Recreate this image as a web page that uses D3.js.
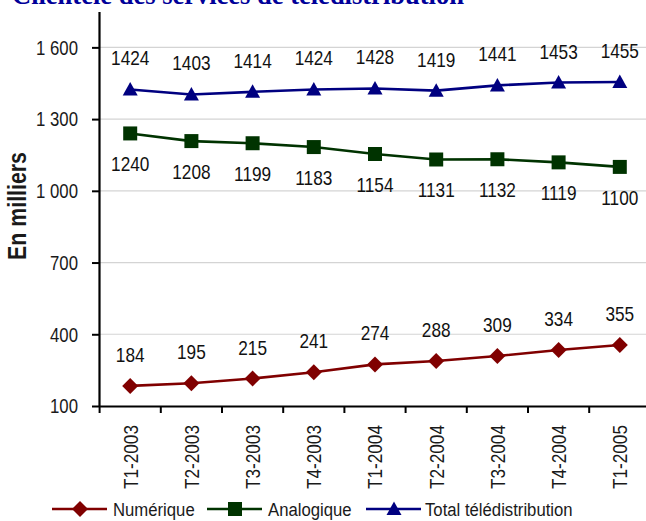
<!DOCTYPE html>
<html>
<head>
<meta charset="utf-8">
<script src="https://cdn.jsdelivr.net/npm/d3@7"></script>
<style>
  html, body { margin: 0; padding: 0; background: #fff; }
  svg { display: block; }
  text { font-family: "Liberation Sans", Arial, sans-serif; }
</style>
</head>
<body>
<svg id="chart" width="646" height="521"></svg>
<script>
// Quarterly subscribers (thousands)
const quarters = ["T1-2003", "T2-2003", "T3-2003", "T4-2003", "T1-2004", "T2-2004", "T3-2004", "T4-2004", "T1-2005"];
const numerique = [184, 195, 215, 241, 274, 288, 309, 334, 355];
const analogique = [1240, 1208, 1199, 1183, 1154, 1131, 1132, 1119, 1100];
const totalTele = [1424, 1403, 1414, 1424, 1428, 1419, 1441, 1453, 1455];
const yTicks = [100, 400, 700, 1000, 1300, 1600];

const series = [
  { name: "Numérique", values: numerique, color: "#800000", marker: "diamond", labelPos: "above" },
  { name: "Analogique", values: analogique, color: "#003300", marker: "square", labelPos: "below" },
  { name: "Total télédistribution", values: totalTele, color: "#000080", marker: "triangle", labelPos: "above" }
];

// condensed look: squeeze glyphs horizontally
const NARROW = 0.82;

const svg = d3.select("#chart");

const x = d3.scaleBand().domain(quarters).range([99.6, 650.4]).padding(0);
const y = d3.scaleLinear().domain([100, 1750]).range([406, 11.5]);

const fmt = d3.formatLocale({ decimal: ",", thousands: "\u00a0", grouping: [3], currency: ["", "€"] }).format(",d");

// Title
svg.append("text")
  .attr("x", 12).attr("y", 4)
  .style("font-family", "'Liberation Serif', 'Times New Roman', serif")
  .attr("font-weight", "bold")
  .attr("font-size", 26.5)
  .attr("fill", "#000099")
  .text("Clientèle des services de télédistribution");

// Horizontal gridlines
svg.append("g")
  .selectAll("line")
  .data(yTicks.slice(1))
  .join("line")
  .attr("x1", 99).attr("x2", 646)
  .attr("y1", d => y(d)).attr("y2", d => y(d))
  .attr("stroke", "#d4d4d4").attr("stroke-width", 1.2);

// Y axis
const yAxis = svg.append("g")
  .attr("transform", "translate(99,0)")
  .call(d3.axisLeft(y).tickValues(yTicks).tickFormat(fmt).tickSize(7).tickSizeOuter(0));
yAxis.select(".domain").attr("stroke", "#000").attr("stroke-width", 2.2);
yAxis.selectAll(".tick line").attr("stroke", "#000").attr("stroke-width", 2);
yAxis.selectAll(".tick text")
  .attr("font-size", 19.5)
  .attr("fill", "#1a1a1a")
  .attr("x", 0)
  .attr("text-anchor", "end")
  .attr("dy", "0.35em")
  .attr("transform", "translate(-21,0) scale(0.86,1)");

// X axis
const xAxis = svg.append("g")
  .attr("transform", "translate(0,406)")
  .call(d3.axisBottom(x).tickSize(0).tickSizeOuter(0));
xAxis.select(".domain").attr("stroke", "#000").attr("stroke-width", 2.2);
// category boundary ticks
xAxis.append("g")
  .selectAll("line")
  .data(quarters)
  .join("line")
  .attr("x1", d => x(d)).attr("x2", d => x(d))
  .attr("y1", 0).attr("y2", 7)
  .attr("stroke", "#000").attr("stroke-width", 2);
xAxis.selectAll(".tick text")
  .attr("font-size", 21)
  .attr("fill", "#1a1a1a")
  .attr("text-anchor", "end")
  .attr("transform", `translate(0,19) rotate(-90) scale(${NARROW},1)`)
  .attr("x", 0).attr("y", 0)
  .attr("dy", "0.35em");

// Y axis title
svg.append("text")
  .attr("transform", `translate(26,206) rotate(-90) scale(${NARROW},1)`)
  .attr("text-anchor", "middle")
  .attr("font-weight", "bold")
  .attr("font-size", 26)
  .attr("fill", "#1a1a1a")
  .text("En milliers");

function markerPath(type) {
  if (type === "diamond") return "M0,-8L8,0L0,8L-8,0Z";
  if (type === "square") return "M-7,-7H7V7H-7Z";
  return "M0,-7.5L7.5,6L-7.5,6Z";
}

const cx = d => x(d) + x.bandwidth() / 2;

series.forEach(s => {
  const g = svg.append("g");
  const pts = quarters.map((q, i) => ({ q, v: s.values[i] }));
  g.append("path")
    .datum(pts)
    .attr("fill", "none")
    .attr("stroke", s.color)
    .attr("stroke-width", 2.6)
    .attr("d", d3.line().x(d => cx(d.q)).y(d => y(d.v)));
  g.selectAll("path.m")
    .data(pts)
    .join("path")
    .attr("class", "m")
    .attr("transform", d => `translate(${cx(d.q)},${y(d.v)})`)
    .attr("d", markerPath(s.marker))
    .attr("fill", s.color);
  g.selectAll("text")
    .data(pts)
    .join("text")
    .attr("transform", d => `translate(${cx(d.q)},${y(d.v) + (s.labelPos === "above" ? -24 : 38)}) scale(${NARROW},1)`)
    .attr("text-anchor", "middle")
    .attr("font-size", 21)
    .attr("fill", "#111")
    .text(d => d.v);
});

// Legend
const legendItems = [
  { s: series[0], lx: 52, tx: 113 },
  { s: series[1], lx: 207, tx: 268 },
  { s: series[2], lx: 366, tx: 425 }
];
const lg = svg.append("g");
legendItems.forEach(it => {
  const ly = 509;
  lg.append("line")
    .attr("x1", it.lx).attr("x2", it.lx + 55)
    .attr("y1", ly).attr("y2", ly)
    .attr("stroke", it.s.color).attr("stroke-width", 2.6);
  lg.append("path")
    .attr("transform", `translate(${it.lx + 28},${ly})`)
    .attr("d", markerPath(it.s.marker))
    .attr("fill", it.s.color);
  lg.append("text")
    .attr("transform", `translate(${it.tx},${ly + 7}) scale(0.88,1)`)
    .attr("font-size", 19)
    .attr("fill", "#1a1a1a")
    .text(it.s.name);
});
</script>
</body>
</html>
